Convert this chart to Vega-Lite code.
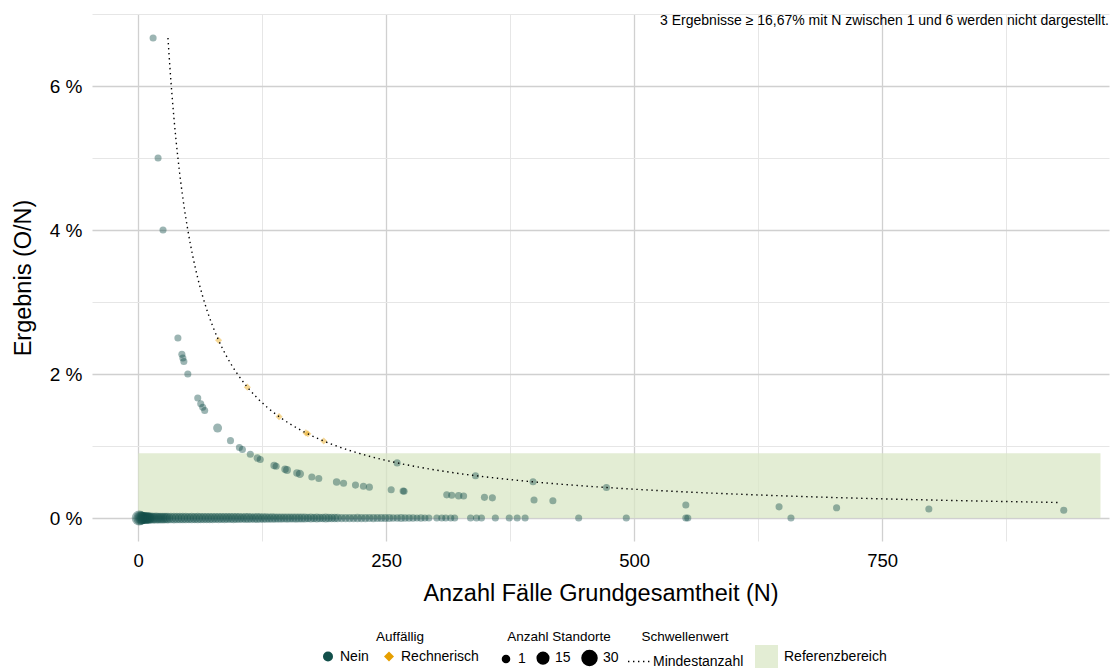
{
  "$schema": "https://vega.github.io/schema/vega-lite/v6.json",
  "width": 1017,
  "height": 527,
  "autosize": {"type": "none"},
  "padding": {"left": 92, "top": 14, "right": 9, "bottom": 127},
  "config": {
    "view": {"stroke": null},
    "font": "Liberation Sans",
    "axis": {"domain": false, "ticks": false, "labelColor": "#000", "titleColor": "#000", "labelFont": "Liberation Sans", "titleFont": "Liberation Sans", "titleFontWeight": "normal"},
    "legend": {"direction": "horizontal", "orient": "none", "titleFontSize": 13.5, "labelFontSize": 14, "titleFontWeight": "normal", "titleColor": "#000", "labelColor": "#000", "titleAnchor": "middle", "titlePadding": 6, "columnPadding": 12, "labelOffset": 5, "padding": 0, "labelFont": "Liberation Sans", "titleFont": "Liberation Sans"}
  },
  "datasets": {
    "punkte": [
      {"N": 1, "Ergebnis": 0, "Auffaellig": "Nein", "Standorte": 30},
      {"N": 2, "Ergebnis": 0, "Auffaellig": "Nein", "Standorte": 24},
      {"N": 3, "Ergebnis": 0, "Auffaellig": "Nein", "Standorte": 20},
      {"N": 4, "Ergebnis": 0, "Auffaellig": "Nein", "Standorte": 18},
      {"N": 5, "Ergebnis": 0, "Auffaellig": "Nein", "Standorte": 17},
      {"N": 6, "Ergebnis": 0, "Auffaellig": "Nein", "Standorte": 16},
      {"N": 7, "Ergebnis": 0, "Auffaellig": "Nein", "Standorte": 15},
      {"N": 8, "Ergebnis": 0, "Auffaellig": "Nein", "Standorte": 15},
      {"N": 9, "Ergebnis": 0, "Auffaellig": "Nein", "Standorte": 14},
      {"N": 10, "Ergebnis": 0, "Auffaellig": "Nein", "Standorte": 14},
      {"N": 11, "Ergebnis": 0, "Auffaellig": "Nein", "Standorte": 13},
      {"N": 12, "Ergebnis": 0, "Auffaellig": "Nein", "Standorte": 13},
      {"N": 14, "Ergebnis": 0, "Auffaellig": "Nein", "Standorte": 13},
      {"N": 16, "Ergebnis": 0, "Auffaellig": "Nein", "Standorte": 12},
      {"N": 18, "Ergebnis": 0, "Auffaellig": "Nein", "Standorte": 13},
      {"N": 20, "Ergebnis": 0, "Auffaellig": "Nein", "Standorte": 12},
      {"N": 22, "Ergebnis": 0, "Auffaellig": "Nein", "Standorte": 12},
      {"N": 24, "Ergebnis": 0, "Auffaellig": "Nein", "Standorte": 12},
      {"N": 26, "Ergebnis": 0, "Auffaellig": "Nein", "Standorte": 12},
      {"N": 28, "Ergebnis": 0, "Auffaellig": "Nein", "Standorte": 11},
      {"N": 30, "Ergebnis": 0, "Auffaellig": "Nein", "Standorte": 12},
      {"N": 33, "Ergebnis": 0, "Auffaellig": "Nein", "Standorte": 11},
      {"N": 36, "Ergebnis": 0, "Auffaellig": "Nein", "Standorte": 12},
      {"N": 39, "Ergebnis": 0, "Auffaellig": "Nein", "Standorte": 11},
      {"N": 42, "Ergebnis": 0, "Auffaellig": "Nein", "Standorte": 11},
      {"N": 45, "Ergebnis": 0, "Auffaellig": "Nein", "Standorte": 11},
      {"N": 48, "Ergebnis": 0, "Auffaellig": "Nein", "Standorte": 11},
      {"N": 51, "Ergebnis": 0, "Auffaellig": "Nein", "Standorte": 10},
      {"N": 54, "Ergebnis": 0, "Auffaellig": "Nein", "Standorte": 11},
      {"N": 57, "Ergebnis": 0, "Auffaellig": "Nein", "Standorte": 10},
      {"N": 60, "Ergebnis": 0, "Auffaellig": "Nein", "Standorte": 11},
      {"N": 63, "Ergebnis": 0, "Auffaellig": "Nein", "Standorte": 10},
      {"N": 66, "Ergebnis": 0, "Auffaellig": "Nein", "Standorte": 10},
      {"N": 69, "Ergebnis": 0, "Auffaellig": "Nein", "Standorte": 10},
      {"N": 72, "Ergebnis": 0, "Auffaellig": "Nein", "Standorte": 10},
      {"N": 75, "Ergebnis": 0, "Auffaellig": "Nein", "Standorte": 10},
      {"N": 78, "Ergebnis": 0, "Auffaellig": "Nein", "Standorte": 9},
      {"N": 81, "Ergebnis": 0, "Auffaellig": "Nein", "Standorte": 10},
      {"N": 84, "Ergebnis": 0, "Auffaellig": "Nein", "Standorte": 9},
      {"N": 87, "Ergebnis": 0, "Auffaellig": "Nein", "Standorte": 10},
      {"N": 90, "Ergebnis": 0, "Auffaellig": "Nein", "Standorte": 9},
      {"N": 93, "Ergebnis": 0, "Auffaellig": "Nein", "Standorte": 9},
      {"N": 96, "Ergebnis": 0, "Auffaellig": "Nein", "Standorte": 10},
      {"N": 99, "Ergebnis": 0, "Auffaellig": "Nein", "Standorte": 9},
      {"N": 102, "Ergebnis": 0, "Auffaellig": "Nein", "Standorte": 9},
      {"N": 105, "Ergebnis": 0, "Auffaellig": "Nein", "Standorte": 8},
      {"N": 108, "Ergebnis": 0, "Auffaellig": "Nein", "Standorte": 9},
      {"N": 111, "Ergebnis": 0, "Auffaellig": "Nein", "Standorte": 9},
      {"N": 114, "Ergebnis": 0, "Auffaellig": "Nein", "Standorte": 8},
      {"N": 117, "Ergebnis": 0, "Auffaellig": "Nein", "Standorte": 8},
      {"N": 120, "Ergebnis": 0, "Auffaellig": "Nein", "Standorte": 9},
      {"N": 123, "Ergebnis": 0, "Auffaellig": "Nein", "Standorte": 8},
      {"N": 126, "Ergebnis": 0, "Auffaellig": "Nein", "Standorte": 8},
      {"N": 129, "Ergebnis": 0, "Auffaellig": "Nein", "Standorte": 8},
      {"N": 132, "Ergebnis": 0, "Auffaellig": "Nein", "Standorte": 7},
      {"N": 135, "Ergebnis": 0, "Auffaellig": "Nein", "Standorte": 8},
      {"N": 138, "Ergebnis": 0, "Auffaellig": "Nein", "Standorte": 7},
      {"N": 141, "Ergebnis": 0, "Auffaellig": "Nein", "Standorte": 7},
      {"N": 144, "Ergebnis": 0, "Auffaellig": "Nein", "Standorte": 7},
      {"N": 147, "Ergebnis": 0, "Auffaellig": "Nein", "Standorte": 6},
      {"N": 150, "Ergebnis": 0, "Auffaellig": "Nein", "Standorte": 7},
      {"N": 153, "Ergebnis": 0, "Auffaellig": "Nein", "Standorte": 6},
      {"N": 156, "Ergebnis": 0, "Auffaellig": "Nein", "Standorte": 6},
      {"N": 159, "Ergebnis": 0, "Auffaellig": "Nein", "Standorte": 7},
      {"N": 162, "Ergebnis": 0, "Auffaellig": "Nein", "Standorte": 6},
      {"N": 165, "Ergebnis": 0, "Auffaellig": "Nein", "Standorte": 6},
      {"N": 168, "Ergebnis": 0, "Auffaellig": "Nein", "Standorte": 6},
      {"N": 171, "Ergebnis": 0, "Auffaellig": "Nein", "Standorte": 5},
      {"N": 174, "Ergebnis": 0, "Auffaellig": "Nein", "Standorte": 6},
      {"N": 177, "Ergebnis": 0, "Auffaellig": "Nein", "Standorte": 5},
      {"N": 180, "Ergebnis": 0, "Auffaellig": "Nein", "Standorte": 6},
      {"N": 183, "Ergebnis": 0, "Auffaellig": "Nein", "Standorte": 5},
      {"N": 186, "Ergebnis": 0, "Auffaellig": "Nein", "Standorte": 5},
      {"N": 189, "Ergebnis": 0, "Auffaellig": "Nein", "Standorte": 6},
      {"N": 192, "Ergebnis": 0, "Auffaellig": "Nein", "Standorte": 5},
      {"N": 195, "Ergebnis": 0, "Auffaellig": "Nein", "Standorte": 5},
      {"N": 198, "Ergebnis": 0, "Auffaellig": "Nein", "Standorte": 5},
      {"N": 201, "Ergebnis": 0, "Auffaellig": "Nein", "Standorte": 5},
      {"N": 205, "Ergebnis": 0, "Auffaellig": "Nein", "Standorte": 4},
      {"N": 209, "Ergebnis": 0, "Auffaellig": "Nein", "Standorte": 4},
      {"N": 213, "Ergebnis": 0, "Auffaellig": "Nein", "Standorte": 4},
      {"N": 217, "Ergebnis": 0, "Auffaellig": "Nein", "Standorte": 4},
      {"N": 221, "Ergebnis": 0, "Auffaellig": "Nein", "Standorte": 5},
      {"N": 225, "Ergebnis": 0, "Auffaellig": "Nein", "Standorte": 4},
      {"N": 229, "Ergebnis": 0, "Auffaellig": "Nein", "Standorte": 4},
      {"N": 233, "Ergebnis": 0, "Auffaellig": "Nein", "Standorte": 3},
      {"N": 237, "Ergebnis": 0, "Auffaellig": "Nein", "Standorte": 4},
      {"N": 241, "Ergebnis": 0, "Auffaellig": "Nein", "Standorte": 3},
      {"N": 245, "Ergebnis": 0, "Auffaellig": "Nein", "Standorte": 3},
      {"N": 249, "Ergebnis": 0, "Auffaellig": "Nein", "Standorte": 3},
      {"N": 253, "Ergebnis": 0, "Auffaellig": "Nein", "Standorte": 3},
      {"N": 257, "Ergebnis": 0, "Auffaellig": "Nein", "Standorte": 2},
      {"N": 261, "Ergebnis": 0, "Auffaellig": "Nein", "Standorte": 2},
      {"N": 265, "Ergebnis": 0, "Auffaellig": "Nein", "Standorte": 3},
      {"N": 269, "Ergebnis": 0, "Auffaellig": "Nein", "Standorte": 2},
      {"N": 273, "Ergebnis": 0, "Auffaellig": "Nein", "Standorte": 2},
      {"N": 277, "Ergebnis": 0, "Auffaellig": "Nein", "Standorte": 2},
      {"N": 281, "Ergebnis": 0, "Auffaellig": "Nein", "Standorte": 1},
      {"N": 285, "Ergebnis": 0, "Auffaellig": "Nein", "Standorte": 2},
      {"N": 289, "Ergebnis": 0, "Auffaellig": "Nein", "Standorte": 1},
      {"N": 293, "Ergebnis": 0, "Auffaellig": "Nein", "Standorte": 1},
      {"N": 301, "Ergebnis": 0, "Auffaellig": "Nein", "Standorte": 1},
      {"N": 306, "Ergebnis": 0, "Auffaellig": "Nein", "Standorte": 1},
      {"N": 310, "Ergebnis": 0, "Auffaellig": "Nein", "Standorte": 1},
      {"N": 315, "Ergebnis": 0, "Auffaellig": "Nein", "Standorte": 1},
      {"N": 319, "Ergebnis": 0, "Auffaellig": "Nein", "Standorte": 1},
      {"N": 335, "Ergebnis": 0, "Auffaellig": "Nein", "Standorte": 1},
      {"N": 341, "Ergebnis": 0, "Auffaellig": "Nein", "Standorte": 1},
      {"N": 346, "Ergebnis": 0, "Auffaellig": "Nein", "Standorte": 1},
      {"N": 360, "Ergebnis": 0, "Auffaellig": "Nein", "Standorte": 1},
      {"N": 374, "Ergebnis": 0, "Auffaellig": "Nein", "Standorte": 1},
      {"N": 382, "Ergebnis": 0, "Auffaellig": "Nein", "Standorte": 1},
      {"N": 390, "Ergebnis": 0, "Auffaellig": "Nein", "Standorte": 1},
      {"N": 444, "Ergebnis": 0, "Auffaellig": "Nein", "Standorte": 1},
      {"N": 492, "Ergebnis": 0, "Auffaellig": "Nein", "Standorte": 1},
      {"N": 552, "Ergebnis": 0, "Auffaellig": "Nein", "Standorte": 1},
      {"N": 554, "Ergebnis": 0, "Auffaellig": "Nein", "Standorte": 1},
      {"N": 658, "Ergebnis": 0, "Auffaellig": "Nein", "Standorte": 1},
      {"N": 15, "Ergebnis": 6.667, "Auffaellig": "Nein", "Standorte": 1},
      {"N": 20, "Ergebnis": 5.0, "Auffaellig": "Nein", "Standorte": 1},
      {"N": 25, "Ergebnis": 4.0, "Auffaellig": "Nein", "Standorte": 1},
      {"N": 40, "Ergebnis": 2.5, "Auffaellig": "Nein", "Standorte": 1},
      {"N": 44, "Ergebnis": 2.273, "Auffaellig": "Nein", "Standorte": 1},
      {"N": 45, "Ergebnis": 2.222, "Auffaellig": "Nein", "Standorte": 1},
      {"N": 46, "Ergebnis": 2.174, "Auffaellig": "Nein", "Standorte": 1},
      {"N": 50, "Ergebnis": 2.0, "Auffaellig": "Nein", "Standorte": 1},
      {"N": 60, "Ergebnis": 1.667, "Auffaellig": "Nein", "Standorte": 1},
      {"N": 63, "Ergebnis": 1.587, "Auffaellig": "Nein", "Standorte": 1},
      {"N": 65, "Ergebnis": 1.538, "Auffaellig": "Nein", "Standorte": 1},
      {"N": 67, "Ergebnis": 1.493, "Auffaellig": "Nein", "Standorte": 1},
      {"N": 80, "Ergebnis": 1.25, "Auffaellig": "Nein", "Standorte": 6},
      {"N": 93, "Ergebnis": 1.075, "Auffaellig": "Nein", "Standorte": 1},
      {"N": 102, "Ergebnis": 0.98, "Auffaellig": "Nein", "Standorte": 1},
      {"N": 105, "Ergebnis": 0.952, "Auffaellig": "Nein", "Standorte": 1},
      {"N": 113, "Ergebnis": 0.885, "Auffaellig": "Nein", "Standorte": 1},
      {"N": 120, "Ergebnis": 0.833, "Auffaellig": "Nein", "Standorte": 2},
      {"N": 123, "Ergebnis": 0.813, "Auffaellig": "Nein", "Standorte": 1},
      {"N": 137, "Ergebnis": 0.73, "Auffaellig": "Nein", "Standorte": 2},
      {"N": 139, "Ergebnis": 0.719, "Auffaellig": "Nein", "Standorte": 1},
      {"N": 148, "Ergebnis": 0.676, "Auffaellig": "Nein", "Standorte": 2},
      {"N": 150, "Ergebnis": 0.667, "Auffaellig": "Nein", "Standorte": 3},
      {"N": 160, "Ergebnis": 0.625, "Auffaellig": "Nein", "Standorte": 2},
      {"N": 163, "Ergebnis": 0.613, "Auffaellig": "Nein", "Standorte": 4},
      {"N": 175, "Ergebnis": 0.571, "Auffaellig": "Nein", "Standorte": 1},
      {"N": 182, "Ergebnis": 0.549, "Auffaellig": "Nein", "Standorte": 1},
      {"N": 200, "Ergebnis": 0.5, "Auffaellig": "Nein", "Standorte": 2},
      {"N": 207, "Ergebnis": 0.483, "Auffaellig": "Nein", "Standorte": 1},
      {"N": 219, "Ergebnis": 0.457, "Auffaellig": "Nein", "Standorte": 1},
      {"N": 227, "Ergebnis": 0.441, "Auffaellig": "Nein", "Standorte": 1},
      {"N": 233, "Ergebnis": 0.429, "Auffaellig": "Nein", "Standorte": 1},
      {"N": 255, "Ergebnis": 0.392, "Auffaellig": "Nein", "Standorte": 1},
      {"N": 267, "Ergebnis": 0.375, "Auffaellig": "Nein", "Standorte": 1},
      {"N": 268, "Ergebnis": 0.373, "Auffaellig": "Nein", "Standorte": 1},
      {"N": 311, "Ergebnis": 0.322, "Auffaellig": "Nein", "Standorte": 1},
      {"N": 316, "Ergebnis": 0.316, "Auffaellig": "Nein", "Standorte": 1},
      {"N": 323, "Ergebnis": 0.31, "Auffaellig": "Nein", "Standorte": 2},
      {"N": 328, "Ergebnis": 0.305, "Auffaellig": "Nein", "Standorte": 1},
      {"N": 349, "Ergebnis": 0.287, "Auffaellig": "Nein", "Standorte": 1},
      {"N": 357, "Ergebnis": 0.28, "Auffaellig": "Nein", "Standorte": 1},
      {"N": 399, "Ergebnis": 0.251, "Auffaellig": "Nein", "Standorte": 1},
      {"N": 418, "Ergebnis": 0.239, "Auffaellig": "Nein", "Standorte": 1},
      {"N": 552, "Ergebnis": 0.181, "Auffaellig": "Nein", "Standorte": 1},
      {"N": 646, "Ergebnis": 0.155, "Auffaellig": "Nein", "Standorte": 1},
      {"N": 704, "Ergebnis": 0.142, "Auffaellig": "Nein", "Standorte": 1},
      {"N": 797, "Ergebnis": 0.125, "Auffaellig": "Nein", "Standorte": 1},
      {"N": 933, "Ergebnis": 0.107, "Auffaellig": "Nein", "Standorte": 1},
      {"N": 261, "Ergebnis": 0.766, "Auffaellig": "Nein", "Standorte": 1},
      {"N": 340, "Ergebnis": 0.588, "Auffaellig": "Nein", "Standorte": 1},
      {"N": 398, "Ergebnis": 0.503, "Auffaellig": "Nein", "Standorte": 1},
      {"N": 472, "Ergebnis": 0.424, "Auffaellig": "Nein", "Standorte": 1},
      {"N": 81, "Ergebnis": 2.469, "Auffaellig": "Rechnerisch", "Standorte": 1},
      {"N": 110, "Ergebnis": 1.818, "Auffaellig": "Rechnerisch", "Standorte": 1},
      {"N": 142, "Ergebnis": 1.408, "Auffaellig": "Rechnerisch", "Standorte": 1},
      {"N": 169, "Ergebnis": 1.183, "Auffaellig": "Rechnerisch", "Standorte": 1},
      {"N": 171, "Ergebnis": 1.17, "Auffaellig": "Rechnerisch", "Standorte": 1},
      {"N": 187, "Ergebnis": 1.07, "Auffaellig": "Rechnerisch", "Standorte": 1}
    ],
    "schwelle": [
      {"N": 30, "Wert": 6.667, "Schwellenwert": "Mindestanzahl"},
      {"N": 32, "Wert": 6.25, "Schwellenwert": "Mindestanzahl"},
      {"N": 34, "Wert": 5.882, "Schwellenwert": "Mindestanzahl"},
      {"N": 36, "Wert": 5.556, "Schwellenwert": "Mindestanzahl"},
      {"N": 38, "Wert": 5.263, "Schwellenwert": "Mindestanzahl"},
      {"N": 40, "Wert": 5.0, "Schwellenwert": "Mindestanzahl"},
      {"N": 43, "Wert": 4.651, "Schwellenwert": "Mindestanzahl"},
      {"N": 46, "Wert": 4.348, "Schwellenwert": "Mindestanzahl"},
      {"N": 50, "Wert": 4.0, "Schwellenwert": "Mindestanzahl"},
      {"N": 55, "Wert": 3.636, "Schwellenwert": "Mindestanzahl"},
      {"N": 60, "Wert": 3.333, "Schwellenwert": "Mindestanzahl"},
      {"N": 65, "Wert": 3.077, "Schwellenwert": "Mindestanzahl"},
      {"N": 70, "Wert": 2.857, "Schwellenwert": "Mindestanzahl"},
      {"N": 75, "Wert": 2.667, "Schwellenwert": "Mindestanzahl"},
      {"N": 80, "Wert": 2.5, "Schwellenwert": "Mindestanzahl"},
      {"N": 90, "Wert": 2.222, "Schwellenwert": "Mindestanzahl"},
      {"N": 100, "Wert": 2.0, "Schwellenwert": "Mindestanzahl"},
      {"N": 110, "Wert": 1.818, "Schwellenwert": "Mindestanzahl"},
      {"N": 120, "Wert": 1.667, "Schwellenwert": "Mindestanzahl"},
      {"N": 130, "Wert": 1.538, "Schwellenwert": "Mindestanzahl"},
      {"N": 143, "Wert": 1.399, "Schwellenwert": "Mindestanzahl"},
      {"N": 155, "Wert": 1.29, "Schwellenwert": "Mindestanzahl"},
      {"N": 170, "Wert": 1.176, "Schwellenwert": "Mindestanzahl"},
      {"N": 185, "Wert": 1.081, "Schwellenwert": "Mindestanzahl"},
      {"N": 200, "Wert": 1.0, "Schwellenwert": "Mindestanzahl"},
      {"N": 220, "Wert": 0.909, "Schwellenwert": "Mindestanzahl"},
      {"N": 240, "Wert": 0.833, "Schwellenwert": "Mindestanzahl"},
      {"N": 261, "Wert": 0.766, "Schwellenwert": "Mindestanzahl"},
      {"N": 285, "Wert": 0.702, "Schwellenwert": "Mindestanzahl"},
      {"N": 310, "Wert": 0.645, "Schwellenwert": "Mindestanzahl"},
      {"N": 340, "Wert": 0.588, "Schwellenwert": "Mindestanzahl"},
      {"N": 370, "Wert": 0.541, "Schwellenwert": "Mindestanzahl"},
      {"N": 400, "Wert": 0.5, "Schwellenwert": "Mindestanzahl"},
      {"N": 440, "Wert": 0.455, "Schwellenwert": "Mindestanzahl"},
      {"N": 472, "Wert": 0.424, "Schwellenwert": "Mindestanzahl"},
      {"N": 520, "Wert": 0.385, "Schwellenwert": "Mindestanzahl"},
      {"N": 570, "Wert": 0.351, "Schwellenwert": "Mindestanzahl"},
      {"N": 620, "Wert": 0.323, "Schwellenwert": "Mindestanzahl"},
      {"N": 680, "Wert": 0.294, "Schwellenwert": "Mindestanzahl"},
      {"N": 740, "Wert": 0.27, "Schwellenwert": "Mindestanzahl"},
      {"N": 800, "Wert": 0.25, "Schwellenwert": "Mindestanzahl"},
      {"N": 860, "Wert": 0.233, "Schwellenwert": "Mindestanzahl"},
      {"N": 928, "Wert": 0.216, "Schwellenwert": "Mindestanzahl"}
    ]
  },
  "layer": [
    {
      "data": {"values": [{"von": 0, "bis": 970, "unten": 0, "oben": 0.9, "Bereich": "Referenzbereich"}]},
      "mark": {"type": "rect", "opacity": 0.75},
      "encoding": {
        "x": {"field": "von", "type": "quantitative", "scale": {"domain": [-46.6, 978.6], "nice": false, "zero": false},
              "axis": {"orient": "bottom", "values": [125, 375, 625, 875], "grid": true, "gridColor": "#e6e6e6", "gridWidth": 1, "labels": false, "title": null}},
        "x2": {"field": "bis"},
        "y": {"field": "unten", "type": "quantitative", "scale": {"domain": [-0.319, 7.0], "nice": false, "zero": false},
              "axis": {"orient": "left", "values": [1, 3, 5, 7], "grid": true, "gridColor": "#e6e6e6", "gridWidth": 1, "labels": false, "title": null}},
        "y2": {"field": "oben"},
        "fill": {"field": "Bereich", "type": "nominal", "scale": {"range": ["#d9e7c6"]},
                 "legend": {"title": null, "legendX": 663, "legendY": 631, "symbolType": "square", "symbolSize": 529, "labelOffset": 6, "symbolStrokeWidth": 0}}
      }
    },
    {
      "data": {"name": "punkte"},
      "mark": {"type": "point", "filled": true, "opacity": 0.42, "strokeWidth": 0},
      "encoding": {
        "x": {"field": "N", "type": "quantitative", "scale": {"domain": [-46.6, 978.6], "nice": false, "zero": false},
              "axis": {"orient": "bottom", "values": [0, 250, 500, 750], "grid": true, "gridColor": "#d0d0d0", "gridWidth": 1.3, "labelFontSize": 18.5, "labelPadding": 10, "title": "Anzahl Fälle Grundgesamtheit (N)", "titleFontSize": 23.5, "titlePadding": 12}},
        "y": {"field": "Ergebnis", "type": "quantitative", "scale": {"domain": [-0.319, 7.0], "nice": false, "zero": false},
              "axis": {"orient": "left", "values": [0, 2, 4, 6], "grid": true, "gridColor": "#d0d0d0", "gridWidth": 1.3, "labelFontSize": 19, "labelPadding": 10, "labelExpr": "datum.value + ' %'", "title": "Ergebnis (O/N)", "titleFontSize": 23.5, "titlePadding": 14}},
        "color": {"field": "Auffaellig", "type": "nominal", "scale": {"domain": ["Nein", "Rechnerisch"], "range": ["#124f4a", "#e69f00"]},
                  "legend": {"title": "Auffällig", "legendX": 229, "legendY": 616, "symbolOpacity": 1, "symbolSize": 100}},
        "shape": {"field": "Auffaellig", "type": "nominal", "scale": {"domain": ["Nein", "Rechnerisch"], "range": ["circle", "diamond"]},
                  "legend": {"title": "Auffällig", "legendX": 229, "legendY": 616, "symbolOpacity": 1, "symbolSize": 100}},
        "size": {"field": "Standorte", "type": "quantitative", "scale": {"domain": [1, 30], "range": [50, 225], "zero": false},
                 "legend": {"title": "Anzahl Standorte", "legendX": 407, "legendY": 616, "values": [1, 15, 30], "symbolFillColor": "#000", "symbolStrokeColor": "#000", "symbolOpacity": 1, "symbolType": "circle", "columnPadding": 8}}
      }
    },
    {
      "data": {"name": "schwelle"},
      "mark": {"type": "line", "color": "#000", "strokeWidth": 1.4, "interpolate": "monotone"},
      "encoding": {
        "x": {"field": "N", "type": "quantitative", "axis": null},
        "y": {"field": "Wert", "type": "quantitative", "axis": null},
        "strokeDash": {"field": "Schwellenwert", "type": "nominal", "scale": {"domain": ["Mindestanzahl"], "range": [[1.4, 3.6]]},
                       "legend": {"title": "Schwellenwert", "legendX": 535, "legendY": 616, "symbolType": "stroke", "symbolSize": 484, "symbolStrokeColor": "#000", "symbolStrokeWidth": 1.4, "labelOffset": 2}}
      }
    },
    {
      "data": {"values": [{"N": 978.6, "Wert": 6.9, "Hinweis": "3 Ergebnisse ≥ 16,67% mit N zwischen 1 und 6 werden nicht dargestellt."}]},
      "mark": {"type": "text", "align": "right", "baseline": "middle", "fontSize": 14, "font": "Liberation Sans", "color": "#000"},
      "encoding": {
        "x": {"field": "N", "type": "quantitative", "axis": null},
        "y": {"field": "Wert", "type": "quantitative", "axis": null},
        "text": {"field": "Hinweis"}
      }
    }
  ],
  "resolve": {"axis": {"x": "independent", "y": "independent"}}
}
